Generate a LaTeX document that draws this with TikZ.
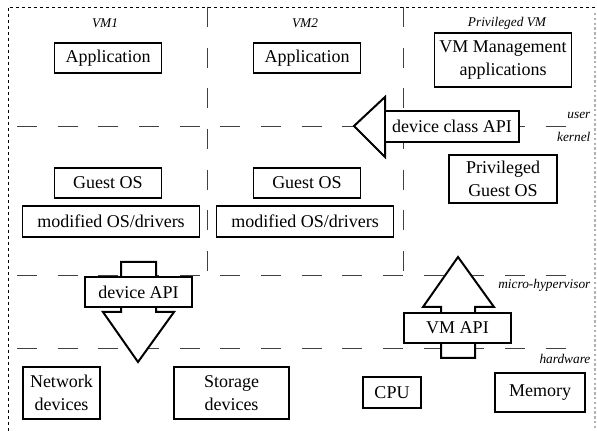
\documentclass[tikz,border=0pt]{standalone}
\usepackage{fontspec}
\setmainfont{Liberation Serif}
\usepackage{tikz}

\begin{document}
\begin{tikzpicture}[x=0.75pt,y=0.75pt,yscale=-1,xscale=1,
  box/.style={draw, line width=1.1pt, fill=white, align=center, inner sep=2pt,
    font=\fontsize{13.5}{17}\selectfont},
  tag/.style={font=\itshape\fontsize{10}{12}\selectfont, inner sep=1pt},
  layer/.style={thin, black!75, dash pattern=on 15pt off 15.5pt},
  blockarrow/.style={line width=1.5pt, fill=white, line join=miter}]

\useasboundingbox (0,0) rectangle (597,431);

% outer frame
\draw [thin, dash pattern=on 2.25pt off 2.25pt] (8,431) -- (8,7) -- (597,7) ;
\draw [line width=1.5pt, gray!60, dash pattern=on 1.8pt off 1.8pt] (595,13) -- (595,431) ;

% layers
\draw [layer] (17,126) -- (580,126) ;
\draw [layer] (17,275) -- (580,275) ;
\draw [layer] (17,348) -- (580,348) ;

% vm separators
\draw [layer] (207,7) -- (207,272) ;
\draw [layer] (403,7) -- (403,272) ;

% layer names
\node [tag, anchor=east] (user) at (592,115) {user};
\node [tag, anchor=east] (kernel) at (592,137) {kernel};
\node [tag, anchor=east] (hyp) at (592,285) {micro-hypervisor};
\node [tag, anchor=east] (hw) at (592,359) {hardware};

% vm names
\node [tag] (vmone) at (105,23) {VM1};
\node [tag] (vmtwo) at (305,23) {VM2};
\node [tag] (vmpriv) at (507,23) {Privileged VM};

% big arrows
\draw [blockarrow] (354,126) -- (385,97) -- (385,157) -- cycle ;
\draw [blockarrow] (121,262) -- (156,262) -- (156,312) -- (174,312) -- (138,362) -- (103,312) -- (121,312) -- cycle ;
\draw [blockarrow] (458,257) -- (494,307) -- (475,307) -- (475,358) -- (441,358) -- (441,307) -- (423,307) -- cycle ;

% user level
\node [box, minimum width=80pt, minimum height=22.5pt] (appone) at (108,58) {Application};
\node [box, minimum width=80pt, minimum height=22.5pt] (apptwo) at (307,58) {Application};
\node [box, minimum width=103pt, minimum height=40.5pt] (mgmt) at (503,60) {VM Management\\applications};
\node [box, line width=1.5pt, minimum width=100.5pt, minimum height=23pt] (clsapi) at (452,126.5) {device class API};

% kernel level
\node [box, minimum width=81pt, minimum height=36pt] (privos) at (503,179) {Privileged\\Guest OS};
\node [box, minimum width=80pt, minimum height=22.5pt] (guestone) at (108,183) {Guest OS};
\node [box, minimum width=80pt, minimum height=22.5pt] (guesttwo) at (307,183) {Guest OS};
\node [box, minimum width=133pt, minimum height=23pt] (modone) at (111,221.5) {modified OS/drivers};
\node [box, minimum width=133pt, minimum height=23pt] (modtwo) at (305,221.5) {modified OS/drivers};

% hypervisor level
\node [box, minimum width=80pt, minimum height=22.5pt] (devapi) at (138.5,292) {device API};
\node [box, minimum width=80pt, minimum height=22.5pt] (vmapi) at (457.5,328) {VM API};

% hardware
\node [box, minimum width=58pt, minimum height=39pt] (net) at (61.5,393) {Network\\devices};
\node [box, minimum width=86pt, minimum height=39pt] (stor) at (231.5,393) {Storage\\devices};
\node [box, minimum width=43.5pt, minimum height=23pt] (cpu) at (392,392.5) {CPU};
\node [box, minimum width=67.5pt, minimum height=29pt] (mem) at (540,392.5) {Memory};

\end{tikzpicture}
\end{document}
